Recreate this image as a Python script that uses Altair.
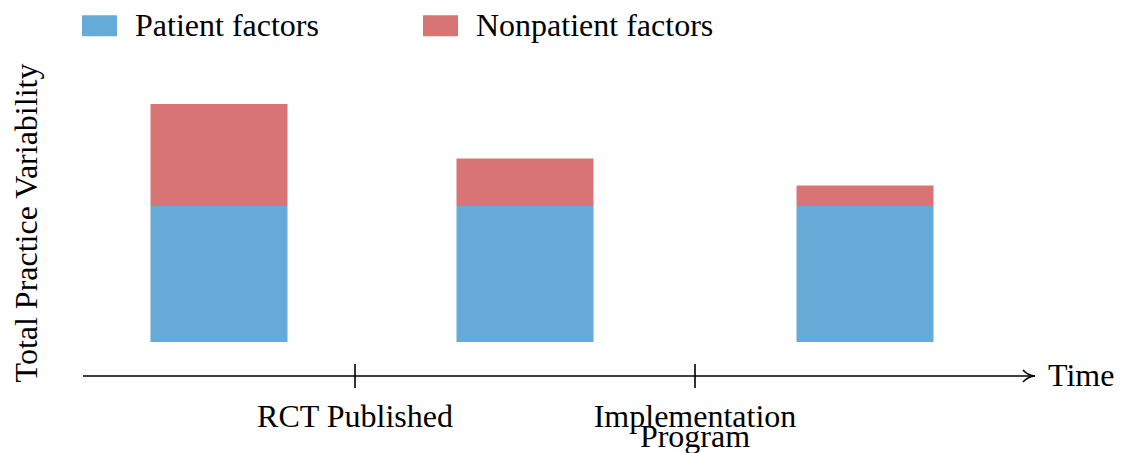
import altair as alt
import pandas as pd

# ---- data ----
time_points = [1.0, 3.25, 5.75]
patient = [1.0, 1.0, 1.0]
nonpatient = [0.75, 0.35, 0.15]
series_names = ["Patient factors", "Nonpatient factors"]
series_colors = ["#66aad7", "#d87574"]
milestone_pos = [2.0, 4.5]
milestone_labels = ["RCT Published", "Implementation\nProgram"]
x_domain = [0, 7]
y_domain = [-0.25, 2.0]
FONT = "serif"
FS = 32

rows = []
for t, p, n in zip(time_points, patient, nonpatient):
    rows.append({"t": t, "series": series_names[0], "value": p, "ord": 0})
    rows.append({"t": t, "series": series_names[1], "value": n, "ord": 1})
bars_df = pd.DataFrame(rows)
ms_df = pd.DataFrame({"pos": milestone_pos, "label": milestone_labels})
axis_df = pd.DataFrame({"x0": [x_domain[0]], "x1": [x_domain[1]], "y": [y_domain[0]], "name": ["Time"]})

W, H = 952, 306
xs = alt.Scale(domain=x_domain, nice=False, zero=False, padding=0)
ys = alt.Scale(domain=y_domain, nice=False, zero=False, padding=0)

bars = alt.Chart(bars_df).mark_bar(size=137).encode(
    x=alt.X("t:Q", scale=xs, axis=None),
    y=alt.Y("sum(value):Q", scale=ys, axis=None, stack="zero"),
    color=alt.Color("series:N", scale=alt.Scale(domain=series_names, range=series_colors),
                    sort=series_names,
                    legend=alt.Legend(title=None, orient="none", direction="horizontal",
                                      legendX=-1, legendY=-62, padding=0,
                                      symbolType="M-1,-0.6H1V0.6H-1Z", symbolSize=1225,
                                      symbolStrokeWidth=0, symbolOpacity=1,
                                      labelFont=FONT, labelFontSize=FS, labelColor="black",
                                      labelLimit=500,
                                      labelOffset=18, columnPadding=104)),
    order=alt.Order("ord:Q"),
)

axis_line = alt.Chart(axis_df).mark_rule(color="black", strokeWidth=1.6).encode(
    x=alt.X("x0:Q", scale=xs), x2="x1:Q", y=alt.Y("y:Q", scale=ys)
)
arrow = alt.Chart(axis_df).mark_point(
    shape="M-1,-1 C-0.3,-0.2 0.2,-0.05 1,0 M-1,1 C-0.3,0.2 0.2,0.05 1,0",
    filled=False, color="black", strokeWidth=1.6, size=144, opacity=1, xOffset=-6
).encode(x=alt.X("x1:Q", scale=xs), y=alt.Y("y:Q", scale=ys))
time_txt = alt.Chart(axis_df).mark_text(
    align="left", baseline="middle", dx=13, font=FONT, fontSize=FS, color="black"
).encode(x=alt.X("x1:Q", scale=xs), y=alt.Y("y:Q", scale=ys), text="name:N")

ticks = alt.Chart(ms_df).mark_rule(color="black", strokeWidth=1.6).encode(
    x=alt.X("pos:Q", scale=xs), y=alt.value(H - 12), y2=alt.value(H + 12)
)
tick_txt = alt.Chart(ms_df).mark_text(
    align="center", baseline="alphabetic", font=FONT, fontSize=FS, color="black",
    lineBreak="\n", lineHeight=20
).encode(x=alt.X("pos:Q", scale=xs), y=alt.value(H + 51), text="label:N")

ylab = alt.Chart(pd.DataFrame({"t": ["Total Practice Variability"]})).mark_text(
    angle=270, align="center", baseline="alphabetic", font=FONT, fontSize=FS, color="black"
).encode(x=alt.value(-46), y=alt.value(H / 2), text="t:N")

chart = alt.layer(bars, axis_line, arrow, time_txt, ticks, tick_txt, ylab).properties(
    width=W, height=H,
    autosize=alt.AutoSizeParams(type="none"),
    padding={"left": 75, "top": 62, "right": 80, "bottom": 77},
).configure_view(stroke=None)

chart.save("out.html", embed_options={"renderer": "svg", "actions": False})
